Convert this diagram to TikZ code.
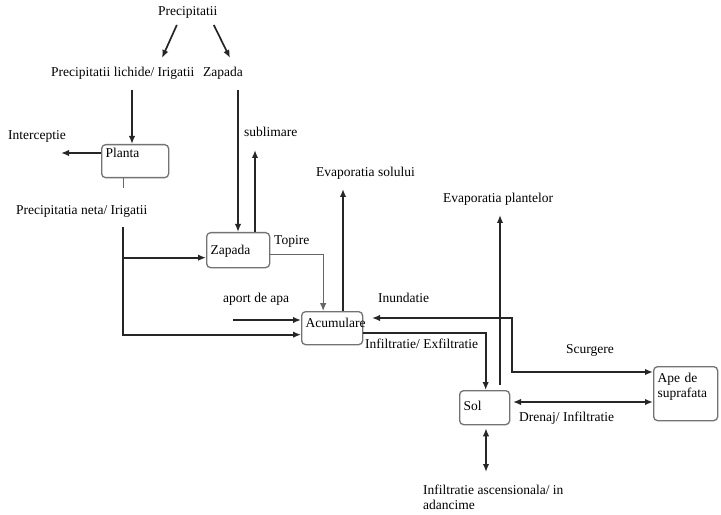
\documentclass[tikz,border=0pt]{standalone}
\usepackage{fontspec}
\setmainfont{Liberation Serif}
\usetikzlibrary{arrows.meta}
\begin{document}
\begin{tikzpicture}[x=1bp,y=-1bp,
  txt/.style={font=\fontsize{13.5bp}{15bp}\selectfont, inner sep=0pt},
  lbl/.style={txt, anchor=base west},
  box/.style={txt, draw=black!55, line width=1.3bp, rounded corners=4bp,
    fill=white, anchor=north west, inner xsep=4bp, inner ysep=0pt, align=left},
  tip/.style={-{Latex[length=8bp,width=6.5bp]}},
  flow/.style={tip, line width=1.7bp, draw=black!85},
  flowboth/.style={{Latex[length=8bp,width=6.5bp]}-{Latex[length=8bp,width=6.5bp]},
    line width=1.7bp, draw=black!85},
  lightflow/.style={tip, line width=1bp, draw=black!60}]

\useasboundingbox[fill=white] (0,0) rectangle (721,515);

% stores (boxes); text height = top edge to baseline, text depth = rest
\node[box, text width=59bp, text height=13bp, text depth=20bp] (planta) at (101,144) {Planta};
\node[box, text width=55bp, text height=22bp, text depth=13bp] (zapada) at (206,232) {Zapada};
\node[box, text width=53bp, text height=16bp, text depth=17bp] (acumulare) at (301,311) {Acumulare};
\node[box, text width=42bp, text height=20bp, text depth=14bp] (sol) at (459,390) {Sol};
\node[box, text width=56bp, text height=16bp, text depth=38bp] (ape) at (653,366) {Ape de\\suprafata};

% flow labels
\node[lbl] (prec) at (158,16) {Precipitatii};
\node[lbl] (lichide) at (51,77) {Precipitatii lichide/ Irigatii};
\node[lbl] (zapl) at (203,77) {Zapada};
\node[lbl] (interc) at (8,140) {Interceptie};
\node[lbl] (subl) at (244,137) {sublimare};
\node[lbl] (neta) at (16,215) {Precipitatia neta/ Irigatii};
\node[lbl] (evsol) at (316,177) {Evaporatia solului};
\node[lbl] (topire) at (274,245) {Topire};
\node[lbl] (evplant) at (443,203) {Evaporatia plantelor};
\node[lbl] (aport) at (223,302) {aport de apa};
\node[lbl] (inund) at (378,302) {Inundatie};
\node[lbl] (infexf) at (365,348) {Infiltratie/ Exfiltratie};
\node[lbl] (scurg) at (566,353) {Scurgere};
\node[lbl] (drenaj) at (519,421) {Drenaj/ Infiltratie};
\node[txt, anchor=north west, align=left] (deep) at (423,485) {Infiltratie ascensionala/ in\\adancime};

% free ends and bends of the connectors
\coordinate (liq-top) at (162,58);
\coordinate (snow-top) at (230,58);
\coordinate (liq-drop) at (132,90);
\coordinate (snow-drop) at (238,90);
\coordinate (interc-end) at (61,153);
\coordinate (subl-end) at (255,150);
\coordinate (net-a) at (123,188);
\coordinate (net-b) at (123,227);
\coordinate (zap-in) at ([yshift=-7.5bp]zapada.west);
\coordinate (acc-in) at ([yshift=-6.5bp]acumulare.west);
\coordinate (melt-out) at ([yshift=-4.5bp]zapada.east);
\coordinate (melt-in) at ([xshift=-9bp]acumulare.north);
\coordinate (evs-end) at (343,189);
\coordinate (aport-start) at (233,320);
\coordinate (inund-tip) at (372,318);
\coordinate (runoff-bend) at (512,372);
\coordinate (inf-out) at ([yshift=-5bp]acumulare.east);
\coordinate (evp-end) at (500,215);
\coordinate (drain) at (513,402);
\coordinate (deep-end) at (486,472);

% precipitation split
\draw[flow] ([xshift=-11bp,yshift=-9bp]prec.base) -- (liq-top);
\draw[flow] ([xshift=26bp,yshift=-9bp]prec.base) -- (snow-top);
\draw[flow] (liq-drop) -- (liq-drop |- planta.north);
\draw[flow] (snow-drop) -- (snow-drop |- zapada.north);

% plant
\draw[flow] (planta.west |- interc-end) -- (interc-end);
\draw[line width=1bp, draw=black!60] (net-a |- planta.south) -- (net-a);
\draw[flow] (net-b) |- (acc-in);
\draw[flow] (net-b |- zap-in) -- (zap-in);

% snow
\draw[flow] (subl-end |- zapada.north) -- (subl-end);
\draw[lightflow] (melt-out) -| (melt-in);

% accumulation
\draw[flow] (evs-end |- acumulare.north) -- (evs-end);
\draw[flow] (aport-start) -- (acumulare.west |- aport-start);
\draw[flowboth] (inund-tip) -| (runoff-bend) -- (ape.west |- runoff-bend);
\draw[flow] (inf-out) -| ([xshift=1bp]sol.north);

% soil
\draw[flow, shorten <=5bp] (evp-end |- sol.north) -- (evp-end);
\draw[flowboth] (drain) -- (ape.west |- drain);
\draw[flowboth, shorten <=3bp] (deep-end |- sol.south) -- (deep-end);
\end{tikzpicture}
\end{document}
